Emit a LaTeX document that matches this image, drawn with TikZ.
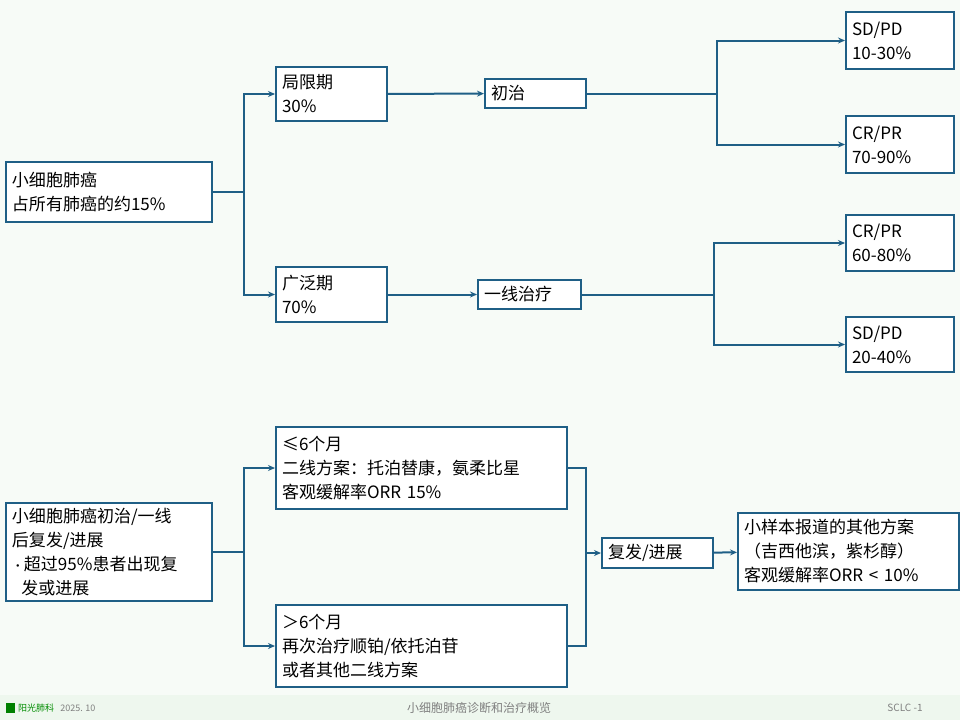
\documentclass[tikz,border=0pt]{standalone}
\usepackage{fontspec}
\setmainfont{Noto Sans CJK SC}
\usetikzlibrary{arrows.meta}
\definecolor{lineblue}{HTML}{1F5F86}
\definecolor{bgpaper}{HTML}{F7FBF7}
\definecolor{footband}{HTML}{EEF7EE}
\begin{document}
\begin{tikzpicture}
        [x=1pt,y=-1pt,
        line width=2pt,
        >={Stealth[length=7pt,width=6pt]},
        bx/.style={draw=lineblue,fill=white,rectangle,anchor=north west,align=left,
            inner xsep=6pt,inner ysep=2pt,font=\fontsize{17}{24}\selectfont},
        link/.style={draw=lineblue,line width=2pt}]
        \useasboundingbox (0,0) rectangle (960,720);
        \fill[bgpaper] (0,0) rectangle (960,720);
        \fill[footband] (0,695) rectangle (960,720);
        % upper tree
        \node[bx,text width=194pt,minimum height=60pt] (sclc) at (5,161) {小细胞肺癌\\占所有肺癌的约15\%};
        \node[bx,text width=99pt,minimum height=54pt] (lim) at (275,66) {局限期\\30\%};
        \node[bx,text width=89pt,minimum height=29pt] (init) at (484,78) {初治};
        \node[bx,text width=96pt,minimum height=57pt] (sdpda) at (845,11) {SD/PD\\10-30\%};
        \node[bx,text width=96pt,minimum height=57pt] (crpra) at (845,115) {CR/PR\\70-90\%};
        \node[bx,text width=99pt,minimum height=55pt] (ext) at (275,266) {广泛期\\70\%};
        \node[bx,text width=91pt,minimum height=29pt] (first) at (477,279) {一线治疗};
        \node[bx,text width=96pt,minimum height=56pt] (crprb) at (845,214) {CR/PR\\60-80\%};
        \node[bx,text width=96pt,minimum height=55pt] (sdpdb) at (845,316) {SD/PD\\20-40\%};
        \draw[link] (sclc.east) -- ++(31,0) coordinate (ja);
        \draw[link,->] (ja) |- (lim);
        \draw[link,->] (ja) |- (ext);
        \draw[link,->] (lim) -- (init);
        \draw[link,->] (ext) -- (first);
        \draw[link] (init.east) -- ++(130,0) coordinate (jb);
        \draw[link,->] (jb) |- (sdpda);
        \draw[link,->] (jb) |- (crpra);
        \draw[link] (first.east) -- ++(132,0) coordinate (jc);
        \draw[link,->] (jc) |- (crprb);
        \draw[link,->] (jc) |- (sdpdb);
        % lower tree
        \node[bx,text width=194pt,minimum height=98pt] (relapse) at (5,502)
            {小细胞肺癌初治/一线\\后复发/进展\\{\large •}超过95\%患者出现复\\\hspace*{0.55em}发或进展};
        \node[bx,text width=279pt,minimum height=82pt] (short) at (275,426)
            {≤6个月\\二线方案：托泊替康，氨柔比星\\客观缓解率ORR 15\%};
        \node[bx,text width=279pt,minimum height=82pt] (long) at (275,604)
            {＞6个月\\再次治疗顺铂/依托泊苷\\或者其他二线方案};
        \node[bx,text width=99pt,minimum height=30pt] (prog) at (601,537) {复发/进展};
        \node[bx,text width=209pt,minimum height=77pt] (other) at (737,512)
            {小样本报道的其他方案\\（吉西他滨，紫杉醇）\\客观缓解率ORR < 10\%};
        \draw[link] (relapse.east) -- ++(31,0) coordinate (jd);
        \draw[link,->] (jd) |- (short);
        \draw[link,->] (jd) |- (long);
        \draw[link] (short.east) -- ++(18,0) coordinate (je) |- (long.east);
        \draw[link,->] (je |- prog.west) -- (prog);
        \draw[link,->] (prog) -- (other);
        % footer
        \fill[green!50!black] (6,703) rectangle (15,713);
        \node[font=\fontsize{9}{10}\selectfont,text=green!55!black,anchor=west,inner sep=1pt] (logo) at (16,708) {阳光肺科};
        \node[font=\fontsize{9}{10}\selectfont,text=gray,anchor=west] (date) at (logo.east) {2025. 10};
        \node[font=\fontsize{12}{14}\selectfont,text=gray] (title) at (479,708) {小细胞肺癌诊断和治疗概览};
        \node[font=\fontsize{10}{12}\selectfont,text=gray] (page) at (905,708) {SCLC -1};
\end{tikzpicture}
\end{document}
